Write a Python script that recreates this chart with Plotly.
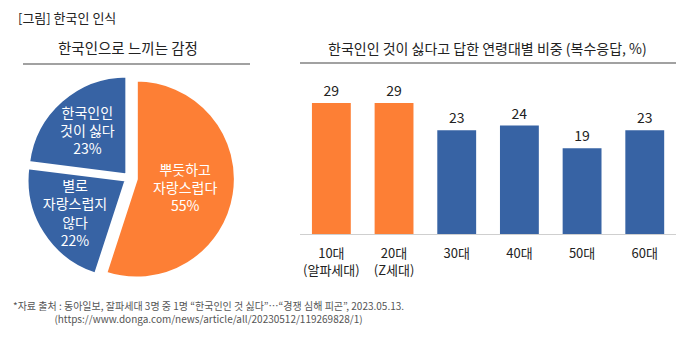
import plotly.graph_objects as go

# ---- data ----
pie_labels = ["뿌듯하고<br>자랑스럽다", "별로<br>자랑스럽지<br>않다", "한국인인<br>것이 싫다"]
pie_values = [55, 22, 23]

age_groups = ["10대<br>(알파세대)", "20대<br>(Z세대)", "30대", "40대", "50대", "60대"]
age_values = [29, 29, 23, 24, 19, 23]

ORANGE = "#FD7F35"
BLUE = "#3763A4"
FONT = "Noto Sans CJK KR, Noto Sans, sans-serif"

bar_colors = [ORANGE, ORANGE, BLUE, BLUE, BLUE, BLUE]

fig = go.Figure()

fig.add_trace(go.Pie(
    labels=pie_labels,
    values=pie_values,
    text=[f"{l}<br>{v}%" for l, v in zip(pie_labels, pie_values)],
    textinfo="text",
    textposition="inside",
    insidetextorientation="horizontal",
    textfont=dict(color="white", size=14, family=FONT),
    sort=False,
    direction="clockwise",
    rotation=0,
    pull=[0.07, 0.04, 0.04],
    marker=dict(colors=[ORANGE, BLUE, BLUE], line=dict(color="white", width=3)),
    domain=dict(x=[0.0343, 0.3437], y=[0.1623, 0.7877]),
    showlegend=False,
    hoverinfo="skip",
))

fig.add_trace(go.Bar(
    x=age_groups,
    y=age_values,
    marker=dict(color=bar_colors, line=dict(width=0)),
    text=[str(v) for v in age_values],
    textposition="outside",
    textfont=dict(size=13, color="#222", family=FONT),
    cliponaxis=False,
    showlegend=False,
    xaxis="x",
    yaxis="y",
))

fig.update_layout(
    width=685, height=339,
    margin=dict(l=0, r=0, t=0, b=0),
    paper_bgcolor="white",
    plot_bgcolor="white",
    font=dict(family=FONT, color="#222"),
    bargap=0.38,
    uniformtext=dict(minsize=14, mode="show"),
    xaxis=dict(
        domain=[0.438, 0.987],
        showline=True, linecolor="#cfcfcf", linewidth=1,
        showgrid=False, ticks="",
        ticklabelstandoff=7,
        tickfont=dict(size=13, color="#222", family=FONT),
        fixedrange=True,
    ),
    yaxis=dict(
        domain=[0.3097, 0.776],
        range=[0, 35],
        visible=False,
        fixedrange=True,
    ),
    annotations=[
        dict(text="[그림] 한국인 인식", x=16/685, y=1-17/339, xref="paper", yref="paper",
             xanchor="left", yanchor="middle", showarrow=False,
             font=dict(size=13, color="#222", family=FONT)),
        dict(text="한국인으로 느끼는 감정", x=128/685, y=1-47/339, xref="paper", yref="paper",
             xanchor="center", yanchor="middle", showarrow=False,
             font=dict(size=14.5, color="#222", family=FONT)),
        dict(text="한국인인 것이 싫다고 답한 연령대별 비중 (복수응답, %)", x=487/685, y=1-48/339,
             xref="paper", yref="paper", xanchor="center", yanchor="middle", showarrow=False,
             font=dict(size=14, color="#222", family=FONT)),
        dict(text="*자료 출처 : 동아일보, 잘파세대 3명 중 1명 “한국인인 것 싫다”…“경쟁 심해 피곤”, 2023.05.13.<br>"
                  "(https://www.donga.com/news/article/all/20230512/119269828/1)",
             x=208/685, y=1-312/339, xref="paper", yref="paper",
             xanchor="center", yanchor="middle", showarrow=False, align="center",
             font=dict(size=10, color="#555", family=FONT)),
    ],
    shapes=[
        dict(type="line", xref="paper", yref="paper", x0=23/685, x1=250/685,
             y0=1-64/339, y1=1-64/339, line=dict(color="#444", width=1.2)),
        dict(type="line", xref="paper", yref="paper", x0=300/685, x1=676/685,
             y0=1-63/339, y1=1-63/339, line=dict(color="#444", width=1.2)),
    ],
)

fig.write_html("out.html")
